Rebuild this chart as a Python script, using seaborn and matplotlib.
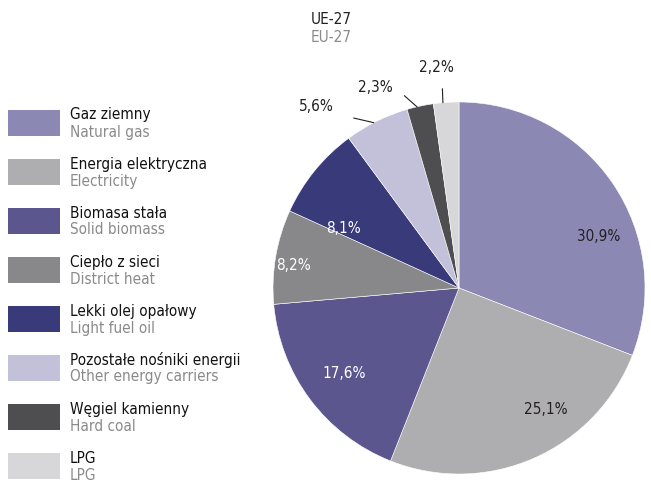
import numpy as np
import seaborn as sns
import matplotlib.pyplot as plt
from matplotlib.patches import Rectangle

# data
labels_pl = ["Gaz ziemny", "Energia elektryczna", "Biomasa stała", "Ciepło z sieci",
             "Lekki olej opałowy", "Pozostałe nośniki energii", "Węgiel kamienny", "LPG"]
labels_en = ["Natural gas", "Electricity", "Solid biomass", "District heat",
             "Light fuel oil", "Other energy carriers", "Hard coal", "LPG"]
shares = [30.9, 25.1, 17.6, 8.2, 8.1, 5.6, 2.3, 2.2]
colors = ["#8c88b4", "#aeaeb0", "#5b578e", "#88888a", "#393a7a", "#c3c0da", "#4e4e50", "#d7d7d9"]

sns.set_theme(style="white")
plt.rcParams["font.family"] = ["DejaVu Sans"]
plt.rcParams["font.stretch"] = "condensed"

fig = plt.figure(figsize=(6.51, 4.86), dpi=100)
W, H = 651, 486

# pie axes: centre (459, 288) px, radius 186 px
cx, cy, r = 459, 288, 186
ax = fig.add_axes([(cx - r) / W, 1 - (cy + r) / H, 2 * r / W, 2 * r / H])
wedges, _ = ax.pie(shares, colors=colors, startangle=90, counterclock=False,
                   radius=1.0, wedgeprops=dict(edgecolor="white", linewidth=0.4))
ax.set_xlim(-1, 1)
ax.set_ylim(-1, 1)
ax.set_aspect("equal")
ax.axis("off")

def fmt(v):
    return f"{v:.1f}%".replace(".", ",")

# inside labels: (radius, angle tweak in degrees, colour)
inside = {0: (0.80, -14, "#231f20"), 1: (0.80, 12, "#231f20"), 2: (0.77, 0, "white"),
          3: (0.90, 2, "white"), 4: (0.70, 12, "white")}
# outside labels: (text radius, text angle tweak, leader outer angle tweak)
outside = {5: (1.24, 12, 5.5), 6: (1.165, 10.5, 3.8), 7: (1.19, 2, 0.8)}

for i, w in enumerate(wedges):
    mid = np.deg2rad((w.theta1 + w.theta2) / 2)
    if i in inside:
        rr, tw, c = inside[i]
        a = mid + np.deg2rad(tw)
        ax.text(rr * np.cos(a), rr * np.sin(a), fmt(shares[i]), ha="center", va="center",
                fontsize=11, color=c)
    else:
        rr, tw, lt = outside[i]
        a0 = mid + np.deg2rad(1)
        a1 = mid + np.deg2rad(lt)
        ax.plot([1.0 * np.cos(a0), 1.075 * np.cos(a1)], [1.0 * np.sin(a0), 1.075 * np.sin(a1)],
                color="#231f20", lw=0.8, clip_on=False)
        a = mid + np.deg2rad(tw)
        ax.text(rr * np.cos(a), rr * np.sin(a), fmt(shares[i]), ha="center", va="center",
                fontsize=11, color="#231f20", clip_on=False)

# title
fig.text(331 / W, 1 - 20 / H, "UE-27", ha="center", va="center", fontsize=11, color="#231f20")
fig.text(331 / W, 1 - 38 / H, "EU-27", ha="center", va="center", fontsize=11, color="#8a8a8c")

# legend
for i in range(len(labels_pl)):
    top = 110 + 49 * i
    fig.patches.append(Rectangle((8 / W, 1 - (top + 26) / H), 52 / W, 26 / H,
                                 transform=fig.transFigure, facecolor=colors[i], edgecolor="none"))
    fig.text(70 / W, 1 - (top + 5) / H, labels_pl[i], ha="left", va="center",
             fontsize=11, color="#111111")
    fig.text(70 / W, 1 - (top + 22) / H, labels_en[i], ha="left", va="center",
             fontsize=11, color="#8a8a8c")

fig.savefig("out.png", dpi=100)
